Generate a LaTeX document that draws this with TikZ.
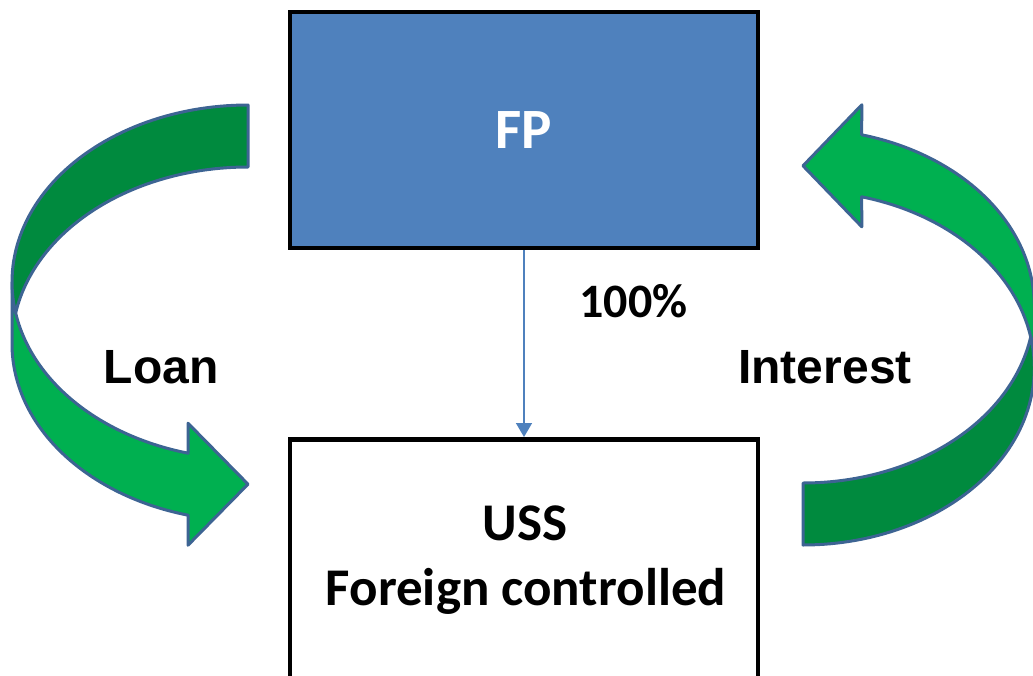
\documentclass[tikz,border=0pt]{standalone}
\usepackage{fontspec}
\setmainfont{Carlito}
\newfontfamily\arialfont{Liberation Sans}
\usetikzlibrary{arrows.meta}
\definecolor{fpblue}{HTML}{4F81BD}
\definecolor{ribbonlight}{HTML}{00B050}
\definecolor{ribbondark}{HTML}{008A3E}
\definecolor{ribbonedge}{HTML}{3D6493}

% Curved ribbon arrow; local origin is the upper corner of the tail.
% Outer ellipse centre (0,177), inner (shifted) ellipse centre (0,239).
\newcommand\ribbonshape{%
  \filldraw[ribbonline, fill=ribbonlight]
    plot[domain=180:104.7,samples=60] ({236*cos(\x)},{177+177*sin(\x)})
    -- (-60,318.2) -- (0,379.2) -- (-60,440.2)
    -- plot[domain=104.7:180,samples=60] ({236*cos(\x)},{239+177*sin(\x)})
    -- cycle;
  \filldraw[ribbonline, fill=ribbondark]
    (0,62) -- plot[domain=270:190.1,samples=60] ({236*cos(\x)},{239+177*sin(\x)})
    -- plot[domain=169.9:270,samples=60] ({236*cos(\x)},{177+177*sin(\x)})
    -- cycle;
}

\begin{document}
\begin{tikzpicture}[x=1pt,y=-1pt,
  ribbonline/.style={draw=ribbonedge, line width=3pt, line join=round},
  fpbox/.style={draw=black, line width=4.5pt, fill=fpblue, minimum width=468pt,
    minimum height=236pt, inner sep=0pt, text=white,
    font=\bfseries\fontsize{57}{68}\selectfont},
  ussbox/.style={draw=black, line width=4.5pt, fill=white, minimum width=468pt,
    minimum height=260pt, inner sep=0pt},
  calibrilbl/.style={anchor=base, inner sep=0pt, font=\bfseries\fontsize{53}{63}\selectfont},
  arial/.style={anchor=base, inner sep=0pt, font=\arialfont\bfseries\fontsize{48}{58}\selectfont},
  own/.style={draw=fpblue, line width=1.6pt, -{Triangle[length=14pt,width=16pt]}}]
\useasboundingbox (0,0) rectangle (1033,675);
\clip (0,0) rectangle (1033,675);

% loan (left) and interest (right) ribbons
\begin{scope}[shift={(248,105)}]
  \ribbonshape
\end{scope}
\begin{scope}[shift={(803,545)}, xscale=-0.98, yscale=-1]
  \ribbonshape
\end{scope}

% entities
\node[fpbox] (fp) at (524,130) {FP};
\node[ussbox, anchor=north] (uss) at (524,437) {};
\node[calibrilbl] (usstitle) at (525,540) {USS};
\node[calibrilbl] (usssub) at (526,605) {Foreign controlled};

% ownership link
\draw[own] (fp.south) -- (uss.north);
\node[calibrilbl, font=\bfseries\fontsize{48}{58}\selectfont] (pct) at (633.5,317) {100\%};

% flow labels
\node[arial] (loan) at (161,383) {Loan};
\node[arial] (interest) at (825,383) {Interest};
\end{tikzpicture}
\end{document}
